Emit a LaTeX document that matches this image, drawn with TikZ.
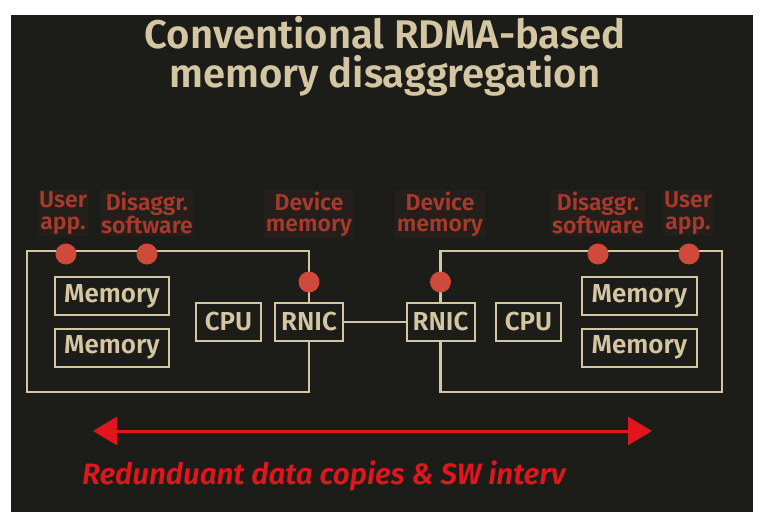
\documentclass[tikz,border=0pt]{standalone}
\usepackage{fontspec}
\setmainfont{Fira Sans}
\IfFontExistsTF{Fira Sans SemiBold}{\newfontfamily\semib{Fira Sans SemiBold}}{\newcommand\semib{\bfseries}}
\usetikzlibrary{arrows.meta}
\definecolor{bg}{HTML}{1C1C18}
\definecolor{beige}{HTML}{D5C6A3}
\definecolor{lblred}{HTML}{A73A2C}
\definecolor{lblbg}{HTML}{241F1B}
\definecolor{dotred}{HTML}{CF4A3B}
\definecolor{arrred}{HTML}{E0161C}
\tikzset{
  outerline/.style={draw=beige, line width=2.8pt},
  compbox/.style={draw=beige, line width=2pt, text=beige, inner sep=0pt,
    font=\fontsize{26}{28}\semib, minimum height=38pt},
  lbl/.style={text=lblred, fill=lblbg, inner sep=1.5pt, align=center, anchor=north,
    font=\fontsize{23}{21.5}\semib},
  dotmark/.style={fill=dotred},
  titletext/.style={text=beige, inner sep=0pt, anchor=base, font=\fontsize{40}{40}\semib},
  redarrow/.style={draw=arrred, line width=3pt, {Triangle[length=24pt,width=28pt]}-{Triangle[length=24pt,width=28pt]}},
}
\begin{document}
\begin{tikzpicture}[x=1pt,y=-1pt]
\useasboundingbox (0,0) rectangle (764,519);
\fill[white] (0,0) rectangle (764,519);
\fill[bg] (11,15) rectangle (753,512);

% title
\node[titletext] (t1) at (385,49) {Conventional RDMA-based};
\node[titletext] (t2) at (385,88) {memory disaggregation};

% left machine
\node[compbox, minimum width=114pt] (lm1) at (112,296) {Memory};
\node[compbox, minimum width=114pt] (lm2) at (112,347.5) {Memory};
\node[compbox, minimum width=65pt] (lcpu) at (228.5,321.5) {CPU};
\node[compbox, minimum width=68pt] (lnic) at (309,322) {RNIC};
\coordinate (lTR) at (309,251);
\coordinate (lTL) at (27,251);
\coordinate (lBL) at (27,392);
\coordinate (lBR) at (309,392);
\draw[outerline] (lnic.north) -- (lTR) -- (lTL) -- (lBL) -- (lBR) -- (lnic.south);

% right machine
\node[compbox, minimum width=115pt] (rm1) at (639.5,296) {Memory};
\node[compbox, minimum width=115pt] (rm2) at (639.5,347.5) {Memory};
\node[compbox, minimum width=65pt] (rcpu) at (528.5,321.5) {CPU};
\node[compbox, minimum width=68pt] (rnic) at (440.5,322) {RNIC};
\coordinate (rTL) at (440.5,251);
\coordinate (rTR) at (722,251);
\coordinate (rBR) at (722,392);
\coordinate (rBL) at (440.5,392);
\draw[outerline] (rnic.north) -- (rTL) -- (rTR) -- (rBR) -- (rBL) -- (rnic.south);

% link
\draw[draw=beige, line width=2pt] (lnic.east) -- (rnic.west);

% dots
\fill[dotmark] (66,254) circle (10.5pt);
\fill[dotmark] (147,254) circle (10.5pt);
\fill[dotmark] (309,282) circle (10.5pt);
\fill[dotmark] (440.5,282) circle (10.5pt);
\fill[dotmark] (598,254) circle (10.5pt);
\fill[dotmark] (689,254) circle (10.5pt);

% labels
\node[lbl] (lu) at (63,190) {User\\app.};
\node[lbl] (ld) at (147,190) {Disaggr.\\software};
\node[lbl] (ldm) at (309,190) {Device\\memory};
\node[lbl] (rdm) at (440,190) {Device\\memory};
\node[lbl] (rd) at (598,190) {Disaggr.\\software};
\node[lbl] (ru) at (688,190) {User\\app.};

% arrow
\coordinate (aL) at (93,431);
\coordinate (aR) at (652,431);
\draw[redarrow] (aL) -- (aR);

% bottom text
\node[text=arrred, anchor=base west, inner sep=0pt, font=\fontsize{29.5}{31}\semib\itshape] (bt) at (82,484) {Redunduant data copies \& SW interv};
\end{tikzpicture}
\end{document}
